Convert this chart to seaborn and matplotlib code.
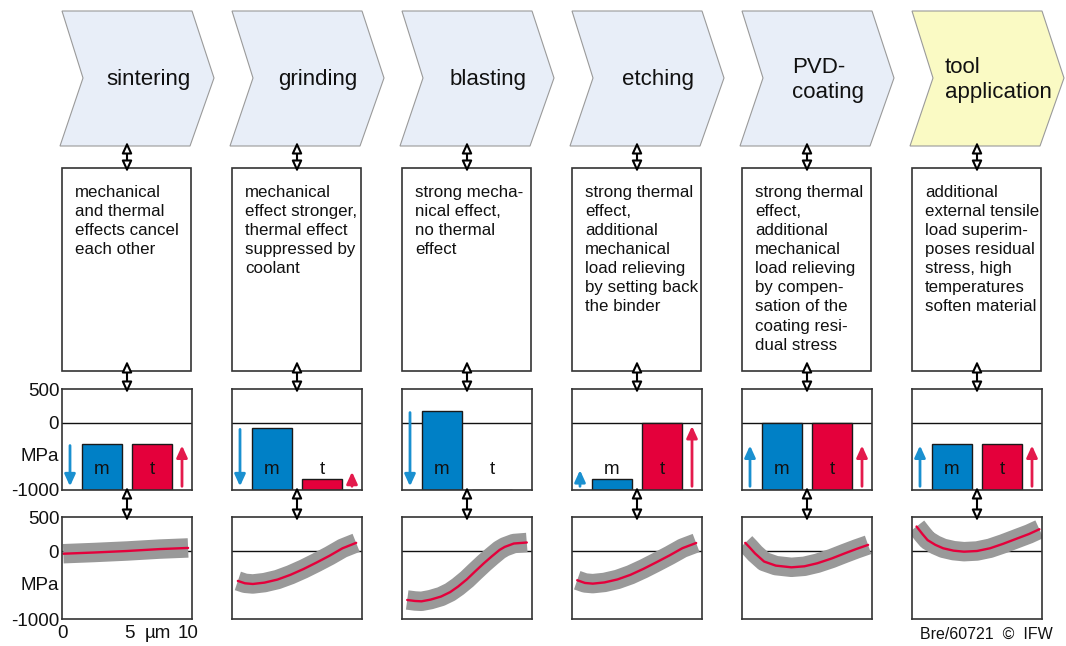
import matplotlib
matplotlib.use("Agg")
import matplotlib.pyplot as plt
from matplotlib.patches import Polygon, Rectangle, FancyArrowPatch
import seaborn as sns

# ---------------------------------------------------------------- data
steps = ["sintering", "grinding", "blasting", "etching", "PVD-\ncoating", "tool\napplication"]
step_fill = ["#e8eef8", "#e8eef8", "#e8eef8", "#e8eef8", "#e8eef8", "#fafac4"]

descriptions = [
    "mechanical\nand thermal\neffects cancel\neach other",
    "mechanical\neffect stronger,\nthermal effect\nsuppressed by\ncoolant",
    "strong mecha-\nnical effect,\nno thermal\neffect",
    "strong thermal\neffect,\nadditional\nmechanical\nload relieving\nby setting back\nthe binder",
    "strong thermal\neffect,\nadditional\nmechanical\nload relieving\nby compen-\nsation of the\ncoating resi-\ndual stress",
    "additional\nexternal tensile\nload superim-\nposes residual\nstress, high\ntemperatures\nsoften material",
]

# residual stress contributions in MPa (m = mechanical, t = thermal)
bar_labels = ["m", "t"]
m_stress = [-320, -80, 180, -830, 0, -320]
t_stress = [-320, -840, -1000, 0, 0, -320]
stress_floor = -1000

# direction arrows: (tail, head) in MPa, None = no arrow
m_arrow = [(-340, -945), (-100, -945), (150, -945), (-945, -705), (-945, -340), (-945, -340)]
t_arrow = [(-945, -340), (-945, -730), None, (-945, -50), (-945, -340), (-945, -340)]

# residual stress depth profiles (depth in µm, stress in MPa)
depth_sintering = [0.1, 2.5, 5.0, 7.5, 9.7]
stress_sintering = [-40, -22, 0, 28, 45]
depth_grinding = [0.45, 1.0, 1.6, 2.5, 3.5, 4.5, 5.5, 6.5, 7.5, 8.5, 9.55]
stress_grinding = [-440, -475, -485, -465, -420, -350, -265, -170, -70, 40, 120]
depth_blasting = [0.4, 1.0, 1.5, 2.2, 3.0, 3.7, 4.3, 5.0, 5.6, 6.3, 6.9, 7.5, 7.9, 8.6, 9.6]
stress_blasting = [-720, -735, -740, -715, -670, -605, -525, -415, -305, -180, -80, 15, 60, 110, 125]
depth_etching = [0.4, 1.0, 1.6, 2.5, 3.5, 4.5, 5.5, 6.5, 7.5, 8.5, 9.55]
stress_etching = [-430, -470, -480, -462, -418, -350, -262, -165, -65, 42, 118]
depth_pvd = [0.25, 0.6, 1.0, 1.7, 2.6, 3.8, 4.8, 5.8, 6.9, 7.9, 8.8, 9.7]
stress_pvd = [120, 50, -35, -155, -215, -240, -225, -180, -110, -35, 30, 90]
depth_tool = [0.35, 0.8, 1.2, 1.8, 2.4, 3.2, 4.0, 5.0, 6.0, 7.0, 8.1, 9.0, 9.8]
stress_tool = [360, 250, 160, 90, 40, 5, -10, 0, 40, 105, 185, 250, 320]

profiles = [
    (depth_sintering, stress_sintering),
    (depth_grinding, stress_grinding),
    (depth_blasting, stress_blasting),
    (depth_etching, stress_etching),
    (depth_pvd, stress_pvd),
    (depth_tool, stress_tool),
]

stress_ticks = [500, 0, -480, -1000]
stress_ticklabels = ["500", "0", "MPa", "-1000"]
depth_ticks = [0, 5.2, 7.4, 9.7]
depth_ticklabels = ["0", "5", "µm", "10"]

# ---------------------------------------------------------------- style
sns.set_theme(style="white")
plt.rcParams["font.family"] = ["Liberation Sans", "DejaVu Sans"]

BLUE = "#0080c6"
RED = "#e4003b"
BLUE_ARROW = "#1a90d0"
RED_ARROW = "#e41a4c"
BAND = "#999999"

W, H = 1066, 646
fig = plt.figure(figsize=(W / 100, H / 100), dpi=100)


def px_axes(x, y_top, w, h, **kw):
    return fig.add_axes([x / W, 1 - (y_top + h) / H, w / W, h / H], **kw)


# background layer in pixel coordinates for the process chain and text boxes
bg = px_axes(0, 0, W, H, zorder=0)
bg.set_xlim(0, W)
bg.set_ylim(H, 0)
bg.axis("off")

# overlay layer for the connecting double arrows
ov = px_axes(0, 0, W, H, zorder=20)
ov.set_xlim(0, W)
ov.set_ylim(H, 0)
ov.axis("off")
ov.patch.set_alpha(0)

COL_X0 = 62
COL_STEP = 170
BOX_W = 129

for i, name in enumerate(steps):
    x0 = COL_X0 + COL_STEP * i

    # chevron
    chev = [(x0, 11), (x0 + 130, 11), (x0 + 152, 78), (x0 + 128, 146),
            (x0 - 2, 146), (x0 + 21, 78)]
    bg.add_patch(Polygon(chev, closed=True, fc=step_fill[i], ec="#9a9a9a", lw=0.8))
    bg.text(x0 + 86, 80, name, ha="center", va="center", multialignment="left",
            fontsize=16, linespacing=1.25, color="#111111")

    # description box
    bg.add_patch(Rectangle((x0, 168), BOX_W, 203, fc="white", ec="#333333", lw=1.2))
    bg.text(x0 + 13, 185, descriptions[i], ha="left", va="top", fontsize=12.2,
            linespacing=1.34, color="#111111")

    # stress contributions
    axb = px_axes(x0, 389, BOX_W + 1, 101, zorder=5)
    heights = [m_stress[i] - stress_floor, t_stress[i] - stress_floor]
    sns.barplot(x=bar_labels, y=heights, hue=bar_labels, palette=[BLUE, RED],
                saturation=1, bottom=stress_floor, width=0.8, edgecolor="#1a1a1a",
                linewidth=1.0, legend=False, ax=axb)
    axb.set_xlim(-0.8, 1.8)
    axb.set_ylim(-1000, 500)
    axb.axhline(0, color="#111111", lw=1.0, zorder=0.5)
    for lab, xx in zip(bar_labels, [0, 1]):
        axb.text(xx, -700, lab, ha="center", va="center", fontsize=13.5, color="#111111")
    for arr, xx, col in [(m_arrow[i], -0.64, BLUE_ARROW), (t_arrow[i], 1.6, RED_ARROW)]:
        if arr is None:
            continue
        axb.annotate("", xy=(xx, arr[1]), xytext=(xx, arr[0]),
                     arrowprops=dict(arrowstyle="-|>,head_length=0.7,head_width=0.32",
                                     color=col, lw=2.0, shrinkA=0, shrinkB=0,
                                     mutation_scale=10))

    # depth profile
    axl = px_axes(x0, 517, BOX_W + 1, 102, zorder=5)
    xs, ys = profiles[i]
    sns.lineplot(x=xs, y=ys, color=BAND, lw=14, solid_capstyle="butt", ax=axl)
    sns.lineplot(x=xs, y=ys, color=RED, lw=1.7, ax=axl)
    axl.axhline(0, color="#111111", lw=1.0, zorder=0.5)
    axl.set_xlim(0, 10)
    axl.set_ylim(-1000, 500)

    for ax in (axb, axl):
        ax.set_xlabel("")
        ax.set_ylabel("")
        for sp in ax.spines.values():
            sp.set_color("#333333")
            sp.set_linewidth(1.2)
        if i == 0:
            ax.set_yticks(stress_ticks, stress_ticklabels)
            ax.tick_params(axis="y", length=0, pad=2, labelsize=13.5, labelcolor="#111111")
        else:
            ax.set_yticks([])
        ax.set_xticks([])

    if i == 0:
        axl.set_xticks(depth_ticks, depth_ticklabels)
        axl.tick_params(axis="x", length=0, pad=4, labelsize=13.5, labelcolor="#111111")

    # connecting double arrows
    xc = x0 + BOX_W / 2 + 0.5
    for y_a, y_b in [(142, 172), (361, 393), (487, 521)]:
        ov.add_patch(FancyArrowPatch((xc, y_a), (xc, y_b),
                                     arrowstyle="<|-|>,head_length=0.65,head_width=0.3",
                                     mutation_scale=10, fc="white", ec="black", lw=1.5,
                                     shrinkA=0, shrinkB=0))

bg.text(1053, 634, "Bre/60721  ©  IFW", ha="right", va="center", fontsize=11.5,
        color="#111111")

fig.savefig("out.png", dpi=100)
